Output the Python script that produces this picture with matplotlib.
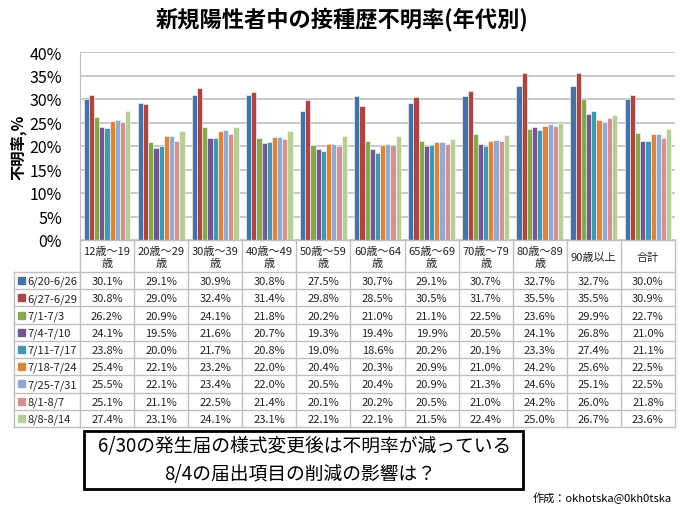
import matplotlib
matplotlib.use("Agg")
import matplotlib.pyplot as plt
from matplotlib.patches import Rectangle
import numpy as np

plt.rcParams['font.family'] = ['Noto Sans CJK JP', 'DejaVu Sans']

categories = ["12歳～19\n歳", "20歳～29\n歳", "30歳～39\n歳", "40歳～49\n歳", "50歳～59\n歳",
              "60歳～64\n歳", "65歳～69\n歳", "70歳～79\n歳", "80歳～89\n歳", "90歳以上", "合計"]
series_names = ["6/20-6/26", "6/27-6/29", "7/1-7/3", "7/4-7/10", "7/11-7/17",
                "7/18-7/24", "7/25-7/31", "8/1-8/7", "8/8-8/14"]
s_0620 = [30.1, 29.1, 30.9, 30.8, 27.5, 30.7, 29.1, 30.7, 32.7, 32.7, 30.0]
s_0627 = [30.8, 29.0, 32.4, 31.4, 29.8, 28.5, 30.5, 31.7, 35.5, 35.5, 30.9]
s_0701 = [26.2, 20.9, 24.1, 21.8, 20.2, 21.0, 21.1, 22.5, 23.6, 29.9, 22.7]
s_0704 = [24.1, 19.5, 21.6, 20.7, 19.3, 19.4, 19.9, 20.5, 24.1, 26.8, 21.0]
s_0711 = [23.8, 20.0, 21.7, 20.8, 19.0, 18.6, 20.2, 20.1, 23.3, 27.4, 21.1]
s_0718 = [25.4, 22.1, 23.2, 22.0, 20.4, 20.3, 20.9, 21.0, 24.2, 25.6, 22.5]
s_0725 = [25.5, 22.1, 23.4, 22.0, 20.5, 20.4, 20.9, 21.3, 24.6, 25.1, 22.5]
s_0801 = [25.1, 21.1, 22.5, 21.4, 20.1, 20.2, 20.5, 21.0, 24.2, 26.0, 21.8]
s_0808 = [27.4, 23.1, 24.1, 23.1, 22.1, 22.1, 21.5, 22.4, 25.0, 26.7, 23.6]
series = [s_0620, s_0627, s_0701, s_0704, s_0711, s_0718, s_0725, s_0801, s_0808]
colors = ["#4572A7", "#AA4643", "#89A54E", "#71588F", "#4198AF",
          "#DB843D", "#93A9CF", "#D19392", "#B9CD96"]
yticks = [0, 5, 10, 15, 20, 25, 30, 35, 40]
note_lines = ["6/30の発生届の様式変更後は不明率が減っている", "8/4の届出項目の削減の影響は？"]

W, H = 680, 510
fig = plt.figure(figsize=(W / 100, H / 100), dpi=100)

def fx(px):
    return px / W

def fy(py):
    return 1 - py / H

ax_left, ax_right, ax_top, ax_bot = 80, 675, 53, 241
ax = fig.add_axes([fx(ax_left), fy(ax_bot), fx(ax_right - ax_left), (ax_bot - ax_top) / H])
n = len(categories)
ns = len(series)
bw = 0.096
x = np.arange(n)
for i, (vals, c) in enumerate(zip(series, colors)):
    ax.bar(x + (i - (ns - 1) / 2) * bw, vals, width=bw, color=c, edgecolor='white',
           linewidth=0.4, zorder=3)
ax.set_xlim(-0.5, n - 0.5)
ax.set_ylim(0, 40)
ax.set_yticks(yticks)
ax.set_yticklabels([f"{v}%" for v in yticks], fontsize=11.5)
ax.set_xticks([])
ax.yaxis.grid(True, color="#BFBFBF", linewidth=1.2, zorder=0)
for s in ['top', 'right', 'bottom']:
    ax.spines[s].set_visible(False)
ax.spines['left'].set_color("#BFBFBF")
ax.tick_params(axis='y', length=0, pad=13)

ov = fig.add_axes([0, 0, 1, 1], facecolor='none')
ov.set_xlim(0, W)
ov.set_ylim(H, 0)
ov.axis('off')

def col_px(v):
    disp = ax.transData.transform((v, 0))
    return ov.transData.inverted().transform(disp)[0]

bounds = [col_px(i - 0.5) for i in range(n + 1)]
hdr_top, hdr_bot = 241, 273
row_h = (428 - hdr_bot) / ns
tbl_bot = hdr_bot + row_h * ns
left_x = 14
gc = "#BFBFBF"
for b in bounds:
    ov.plot([b, b], [hdr_top, tbl_bot], color=gc, lw=1)
ov.plot([left_x, left_x], [hdr_bot, tbl_bot], color=gc, lw=1)
ov.plot([bounds[0], bounds[-1]], [hdr_top, hdr_top], color=gc, lw=1)
for r in range(ns + 1):
    yy = hdr_bot + r * row_h
    ov.plot([left_x, bounds[-1]], [yy, yy], color=gc, lw=1)
for i, cat in enumerate(categories):
    cx = (bounds[i] + bounds[i + 1]) / 2
    ov.text(cx, (hdr_top + hdr_bot) / 2 + 1, cat, ha='center', va='center', fontsize=8,
            linespacing=1.25, color="#222222")
for r, (name, vals, c) in enumerate(zip(series_names, series, colors)):
    cy = hdr_bot + (r + 0.5) * row_h
    ov.add_patch(Rectangle((18, cy - 3.5), 7, 7, color=c))
    ov.text(27, cy + 0.5, name, ha='left', va='center', fontsize=8, color="#222222")
    for i, v in enumerate(vals):
        cx = (bounds[i] + bounds[i + 1]) / 2
        ov.text(cx, cy + 0.5, f"{v:.1f}%", ha='center', va='center', fontsize=8, color="#222222")

ov.text(342, 20, "新規陽性者中の接種歴不明率(年代別)", ha='center', va='center',
        fontsize=16, fontweight='bold')
ov.text(18, 147, "不明率,%", ha='center', va='center', rotation=90, fontsize=11,
        fontweight='bold')

ov.add_patch(Rectangle((84, 432), 439, 58, facecolor='white', edgecolor='black', lw=2))
ov.text(305, 447, note_lines[0], ha='center', va='center', fontsize=13.5)
ov.text(300, 475, note_lines[1], ha='center', va='center', fontsize=13.5)
ov.text(672, 498, "作成：okhotska@0kh0tska", ha='right', va='center', fontsize=8)

fig.savefig("out.png", dpi=100)
